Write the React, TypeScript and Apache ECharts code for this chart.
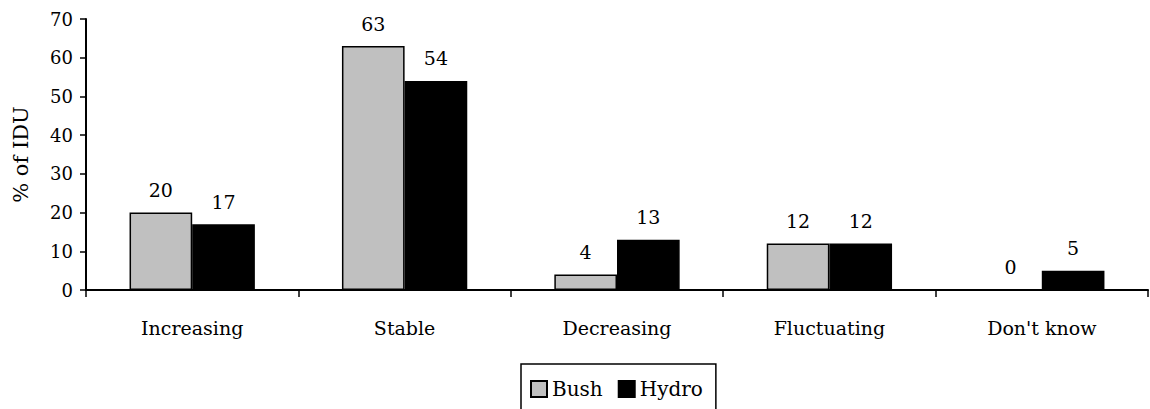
import React, { useEffect, useRef } from "react";
import * as echarts from "echarts";

const categories = ["Increasing", "Stable", "Decreasing", "Fluctuating", "Don't know"];
const bushValues = [20, 63, 4, 12, 0];
const hydroValues = [17, 54, 13, 12, 5];
const yTicks = [0, 10, 20, 30, 40, 50, 60, 70];

const FONT = "DejaVu Serif";

export default function App() {
  const ref = useRef<HTMLDivElement>(null);
  useEffect(() => {
    if (!ref.current) return;
    const chart = echarts.init(ref.current, undefined, { renderer: "svg" });
    const labelCfg = {
      show: true,
      position: "top" as const,
      distance: 13,
      color: "#000",
      fontFamily: FONT,
      fontSize: 19,
    };
    chart.setOption({
      animation: false,
      backgroundColor: "#fff",
      textStyle: { fontFamily: FONT, color: "#000" },
      grid: { left: 86, right: 2, top: 19, bottom: 119 },
      legend: {
        top: 364,
        left: 521,
        itemWidth: 16,
        itemHeight: 16,
        itemGap: 15,
        padding: [15, 13, 15, 9],
        borderColor: "#000",
        borderWidth: 1.5,
        textStyle: { fontFamily: FONT, fontSize: 20, color: "#000" },
        data: [
          { name: "Bush", icon: "rect" },
          { name: "Hydro", icon: "rect" },
        ],
      },
      xAxis: {
        type: "category",
        data: categories,
        axisLine: { lineStyle: { color: "#000", width: 2 } },
        axisTick: { show: true, length: 7, lineStyle: { color: "#000", width: 1.5 } },
        axisLabel: { color: "#000", fontFamily: FONT, fontSize: 19, margin: 28 },
      },
      yAxis: {
        type: "value",
        min: yTicks[0],
        max: yTicks[yTicks.length - 1],
        interval: 10,
        name: "% of IDU",
        nameLocation: "middle",
        nameGap: 55,
        nameRotate: 90,
        nameTextStyle: { fontFamily: FONT, fontSize: 21, color: "#000" },
        splitLine: { show: false },
        axisLine: { show: true, lineStyle: { color: "#000", width: 2 } },
        axisTick: { show: true, length: 6, lineStyle: { color: "#000", width: 1.5 } },
        axisLabel: { color: "#000", fontFamily: FONT, fontSize: 18, margin: 13 },
      },
      series: [
        {
          name: "Bush",
          type: "bar",
          data: bushValues,
          barGap: "0%",
          barCategoryGap: "41%",
          itemStyle: { color: "#c0c0c0", borderColor: "#000", borderWidth: 1.5 },
          label: labelCfg,
        },
        {
          name: "Hydro",
          type: "bar",
          data: hydroValues,
          barGap: "0%",
          barCategoryGap: "41%",
          itemStyle: { color: "#000", borderColor: "#000", borderWidth: 1.5 },
          label: labelCfg,
        },
      ],
    });
    return () => chart.dispose();
  }, []);
  return (
    <div
      ref={ref}
      style={{ position: "absolute", left: 0, top: 0, width: 1150, height: 409 }}
    />
  );
}
